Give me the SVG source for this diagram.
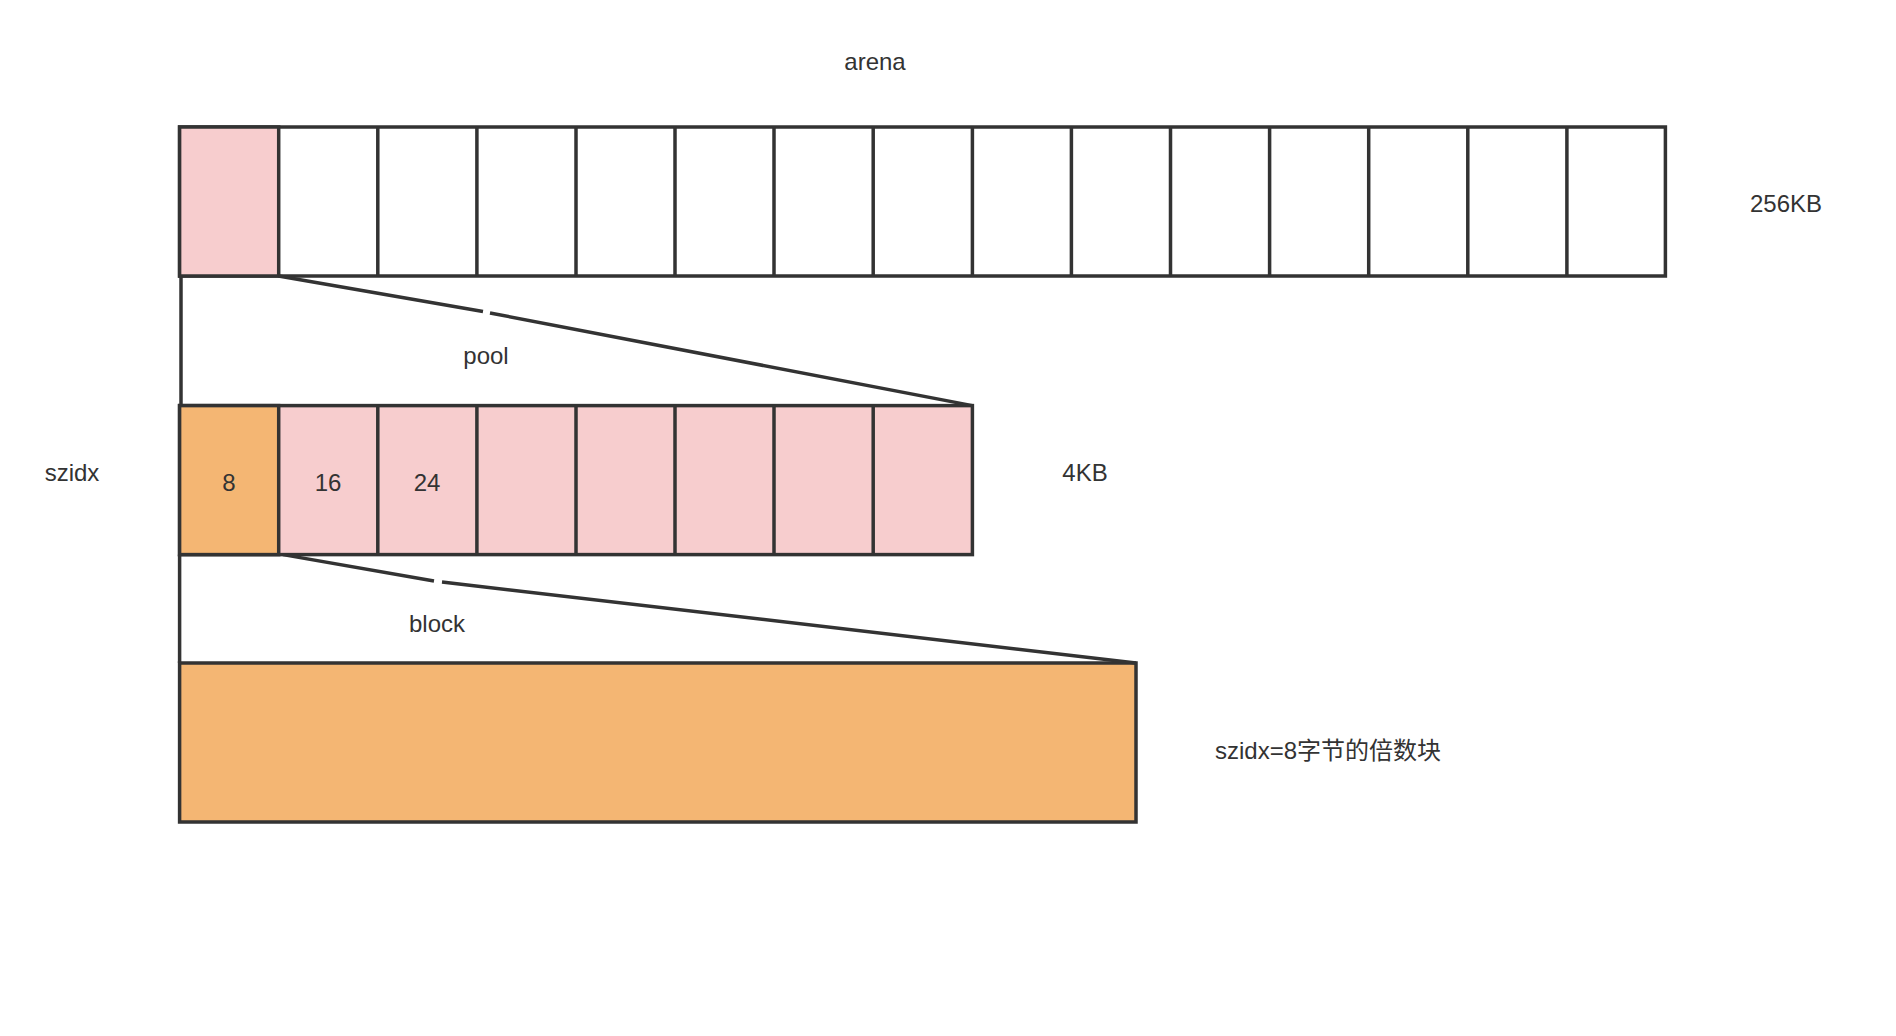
<svg xmlns="http://www.w3.org/2000/svg" width="1896" height="1036" viewBox="0 0 1896 1036">
<style>
.c{stroke:#333;stroke-width:3.5;}
.w{fill:#fff}.p{fill:#f7cdce}.o{fill:#f4b673}
text{font-family:"Liberation Sans","Noto Sans CJK SC",sans-serif;font-size:24px;fill:#333;text-anchor:middle;dominant-baseline:central}
.ln{fill:none;stroke:#333;stroke-width:3.5}
</style>
<rect width="1896" height="1036" fill="#fff"/>
<g id="arena">
<rect class="c w" x="179.6" y="127" width="1485.8" height="149"/>
<rect class="c p" x="179.6" y="127" width="99.1" height="149"/>
<path class="ln" d="M377.8 127V276M476.9 127V276M576 127V276M675 127V276M774 127V276M873.2 127V276M972.4 127V276M1071.4 127V276M1170.5 127V276M1269.6 127V276M1368.7 127V276M1467.8 127V276M1566.9 127V276"/>
</g>
<g id="pool">
<rect class="c p" x="179.6" y="405.6" width="792.8" height="149"/>
<rect class="c o" x="179.6" y="405.6" width="99.1" height="149"/>
<path class="ln" d="M377.8 405.6V554.6M476.9 405.6V554.6M576 405.6V554.6M675 405.6V554.6M774 405.6V554.6M873.2 405.6V554.6"/>
</g>
<g id="block">
<rect class="c o" x="179.6" y="663" width="956.4" height="159"/>
</g>
<g id="connectors">
<path class="ln" d="M278.5 276L483 311.5M490 313L972.4 405.6"/>
<path class="ln" d="M181 276V405.6"/>
<path class="ln" d="M283 554.6L434 581M442 582L1136 663"/>
<path class="ln" d="M179.6 554.6V663"/>
</g>
<g id="labels">
<text x="875" y="61">arena</text>
<text x="1786" y="203">256KB</text>
<text x="486" y="355">pool</text>
<text x="72" y="472">szidx</text>
<text x="229" y="482">8</text>
<text x="328" y="482">16</text>
<text x="427" y="482">24</text>
<text x="1085" y="472">4KB</text>
<text x="437" y="623">block</text>
<text x="1328" y="750">szidx=8字节的倍数块</text>
</g>
</svg>
